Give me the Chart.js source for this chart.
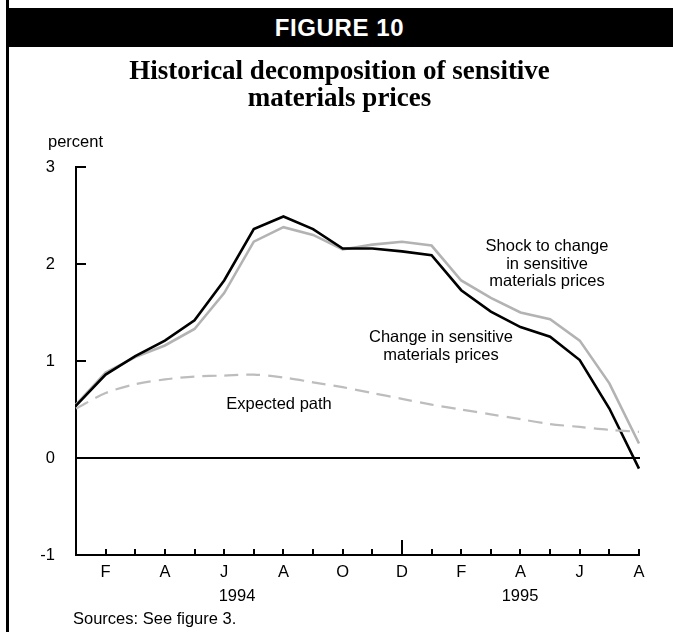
<!DOCTYPE html>
<html>
<head>
<meta charset="utf-8">
<script src="https://cdn.jsdelivr.net/npm/chart.js@4.4.1/dist/chart.umd.min.js"></script>
<style>
  html, body { margin: 0; padding: 0; background: #fff; }
  #wrap { position: relative; width: 673px; height: 632px; overflow: hidden; font-family: "Liberation Sans", Arial, sans-serif; color: #000; }
  #chart { position: absolute; left: 0; top: 0; }
  .txt { position: absolute; font-size: 16.5px; line-height: 17.5px; white-space: nowrap; }
  .center { transform: translateX(-50%); text-align: center; }
  #border { position: absolute; left: 6px; top: 0; width: 3px; height: 632px; background: #000; }
  #header { position: absolute; left: 6px; top: 8px; width: 667px; height: 39px; background: #000; color: #fff;
            font-weight: bold; font-size: 24px; line-height: 40px; text-align: center; letter-spacing: 0.6px; }
  #title { position: absolute; left: 6px; width: 667px; top: 57px; text-align: center;
           font-family: "Liberation Serif", "Times New Roman", serif; font-weight: bold; font-size: 27px; line-height: 27px; }
</style>
</head>
<body>
<div id="wrap">
  <canvas id="chart" width="673" height="632"></canvas>
  <div id="border"></div>
  <div id="header">FIGURE 10</div>
  <div id="title">Historical decomposition of sensitive<br>materials prices</div>
  <div class="txt" style="left:48px; top:133px;">percent</div>
  <div class="txt center" style="left:547px; top:237px;">Shock to change<br>in sensitive<br>materials prices</div>
  <div class="txt center" style="left:441px; top:328px;">Change in sensitive<br>materials prices</div>
  <div class="txt center" style="left:279px; top:395px;">Expected path</div>
  <div class="txt center" style="left:237px; top:587px;">1994</div>
  <div class="txt center" style="left:520px; top:587px;">1995</div>
  <div class="txt" style="left:73px; top:610px;">Sources: See figure 3.</div>
</div>

<script>
// ------------------------------------------
// data (monthly, Jan 1994 - Aug 1995)
// ------------------------------------------
const months = ['J','F','M','A','M','J','J','A','S','O','N','D',
                'J','F','M','A','M','J','J','A'];

const changeInPrices = [0.54, 0.86, 1.05, 1.21, 1.42, 1.83, 2.36, 2.49, 2.36, 2.16,
                        2.16, 2.13, 2.09, 1.73, 1.51, 1.35, 1.25, 1.01, 0.51, -0.11];

const shockToChange = [0.55, 0.88, 1.04, 1.16, 1.33, 1.70, 2.23, 2.38, 2.30, 2.15,
                       2.20, 2.23, 2.19, 1.83, 1.65, 1.50, 1.43, 1.21, 0.77, 0.15];

const expectedPath = [0.51, 0.67, 0.76, 0.81, 0.84, 0.85, 0.86, 0.83, 0.78, 0.73,
                      0.67, 0.61, 0.55, 0.50, 0.45, 0.40, 0.35, 0.32, 0.29, 0.27];

const yTicks = [3, 2, 1, 0];
const yearBreak = 11; // December gets the long tick

// axes, tick marks and the zero line drawn from the chart's scales
const framePlugin = {
    id: 'frame',
    beforeDatasetsDraw(chart) {
        const c = chart.ctx;
        const x = chart.scales.x, y = chart.scales.y;
        const left = x.getPixelForValue(0);
        const right = x.getPixelForValue(months.length - 1);
        const top = y.getPixelForValue(3);
        const bottom = y.getPixelForValue(-1);
        c.save();
        c.strokeStyle = '#000';
        c.lineWidth = 2;
        c.lineCap = 'square';
        c.beginPath();
        c.moveTo(left, top); c.lineTo(left, bottom); c.lineTo(right, bottom);
        // y ticks point inward
        yTicks.forEach(v => {
            const py = y.getPixelForValue(v);
            c.moveTo(left, py); c.lineTo(left + 9, py);
        });
        // zero line
        const zy = y.getPixelForValue(0);
        c.moveTo(left, zy); c.lineTo(right, zy);
        c.stroke();
        c.lineCap = 'butt';
        c.beginPath();
        for (let i = 1; i < months.length; i++) {
            const px = Math.round(x.getPixelForValue(i));
            const len = i === yearBreak ? 15 : 6;
            c.moveTo(px, bottom); c.lineTo(px, bottom - len);
        }
        c.stroke();
        c.restore();
    }
};

const ctx = document.getElementById('chart').getContext('2d');
Chart.defaults.font.family = "'Liberation Sans', Arial, sans-serif";
Chart.defaults.color = '#000';

new Chart(ctx, {
    type: 'line',
    data: {
        labels: months,
        datasets: [
            {
                label: 'Expected path',
                data: expectedPath,
                borderColor: '#bdbdbd',
                borderWidth: 2.2,
                borderDash: [14, 8],
                pointRadius: 0,
                tension: 0.3
            },
            {
                label: 'Change in sensitive materials prices',
                data: changeInPrices,
                borderColor: '#000',
                borderWidth: 2.6,
                pointRadius: 0,
                tension: 0
            },
            {
                label: 'Shock to change in sensitive materials prices',
                data: shockToChange,
                borderColor: '#b3b3b3',
                borderWidth: 2.6,
                pointRadius: 0,
                tension: 0
            }
        ]
    },
    options: {
        responsive: false,
        animation: false,
        devicePixelRatio: 1,
        layout: { padding: { left: 0, top: 167, right: 34, bottom: 0 } },
        plugins: { legend: { display: false }, tooltip: { enabled: false } },
        scales: {
            x: {
                grid: { display: false, drawTicks: false },
                border: { display: false },
                afterFit: s => { s.height = 77; },
                ticks: {
                    autoSkip: false,
                    maxRotation: 0,
                    padding: 8,
                    font: { size: 16.5 },
                    callback: (v, i) => (i % 2 === 1 ? months[i] : '')
                }
            },
            y: {
                min: -1,
                max: 3,
                grid: { display: false, drawTicks: false },
                border: { display: false },
                afterFit: s => { s.width = 76; },
                ticks: { stepSize: 1, padding: 21, font: { size: 16.5 } }
            }
        }
    },
    plugins: [framePlugin]
});
</script>
</body>
</html>
